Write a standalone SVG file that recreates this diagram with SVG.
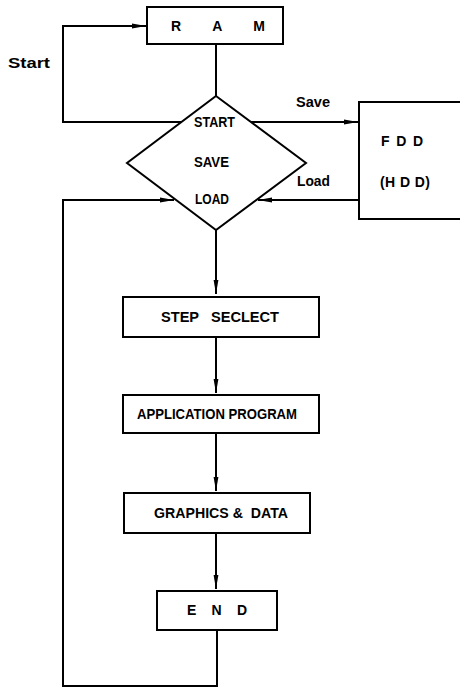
<svg xmlns="http://www.w3.org/2000/svg" width="460" height="687" viewBox="0 0 460 687">
<style>
.box{fill:#fff;stroke:#000;stroke-width:2}
.ln{fill:none;stroke:#000;stroke-width:2}
text{font-family:"Liberation Sans",Arial,sans-serif;font-weight:bold;font-size:14px;fill:#000;white-space:pre}
</style>
<defs>
<marker id="ah" viewBox="0 0 14 6" refX="14" refY="3" markerWidth="14" markerHeight="6" markerUnits="userSpaceOnUse" orient="auto">
<path d="M0,0.6 L14,3 L0,5.4 Z" fill="#000"/>
</marker>
</defs>
<rect width="460" height="687" fill="#fff"/>
<g id="connectors">
<path class="ln" d="M181,122 H63 V26 H146" marker-end="url(#ah)"/>
<path class="ln" d="M216,44 V96"/>
<path class="ln" d="M251,122 H358" marker-end="url(#ah)"/>
<path class="ln" d="M359,200 H258" marker-end="url(#ah)"/>
<path class="ln" d="M217,630 V686 H63 V200 H174" marker-end="url(#ah)"/>
<path class="ln" d="M216,230 V294" marker-end="url(#ah)"/>
<path class="ln" d="M216,337 V393" marker-end="url(#ah)"/>
<path class="ln" d="M216,433 V491" marker-end="url(#ah)"/>
<path class="ln" d="M216,533 V589" marker-end="url(#ah)"/>
<text x="8" y="68" textLength="42" lengthAdjust="spacingAndGlyphs">Start</text>
<text x="296" y="107" textLength="34" lengthAdjust="spacingAndGlyphs">Save</text>
<text x="297" y="186" textLength="33" lengthAdjust="spacingAndGlyphs">Load</text>
</g>
<g id="ram">
<rect class="box" x="147" y="7" width="136" height="37"/>
<text x="171" y="31" textLength="94" lengthAdjust="spacing">R A M</text>
</g>
<g id="decision">
<polygon class="box" points="216,96 306,163 216,230 127,163"/>
<text x="194" y="127" textLength="41" lengthAdjust="spacingAndGlyphs">START</text>
<text x="194" y="167" textLength="35" lengthAdjust="spacingAndGlyphs">SAVE</text>
<text x="195" y="204" textLength="34" lengthAdjust="spacingAndGlyphs">LOAD</text>
</g>
<g id="fdd">
<path class="ln" d="M461,102 H359 V219 H461"/>
<text x="381" y="146" textLength="42" lengthAdjust="spacing">F D D</text>
<text x="380" y="187" textLength="50" lengthAdjust="spacing">(H D D)</text>
</g>
<g id="step">
<rect class="box" x="123" y="297" width="196" height="40"/>
<text x="161" y="322" textLength="118" lengthAdjust="spacingAndGlyphs" xml:space="preserve">STEP   SECLECT</text>
</g>
<g id="app">
<rect class="box" x="123" y="395" width="196" height="38"/>
<text x="137" y="419" textLength="160" lengthAdjust="spacingAndGlyphs">APPLICATION PROGRAM</text>
</g>
<g id="graphics">
<rect class="box" x="124" y="493" width="186" height="40"/>
<text x="154" y="518" textLength="134" lengthAdjust="spacingAndGlyphs" xml:space="preserve">GRAPHICS &amp;  DATA</text>
</g>
<g id="end">
<rect class="box" x="157" y="591" width="120" height="39"/>
<text x="187" y="615" textLength="60" lengthAdjust="spacing">E N D</text>
</g>
</svg>
